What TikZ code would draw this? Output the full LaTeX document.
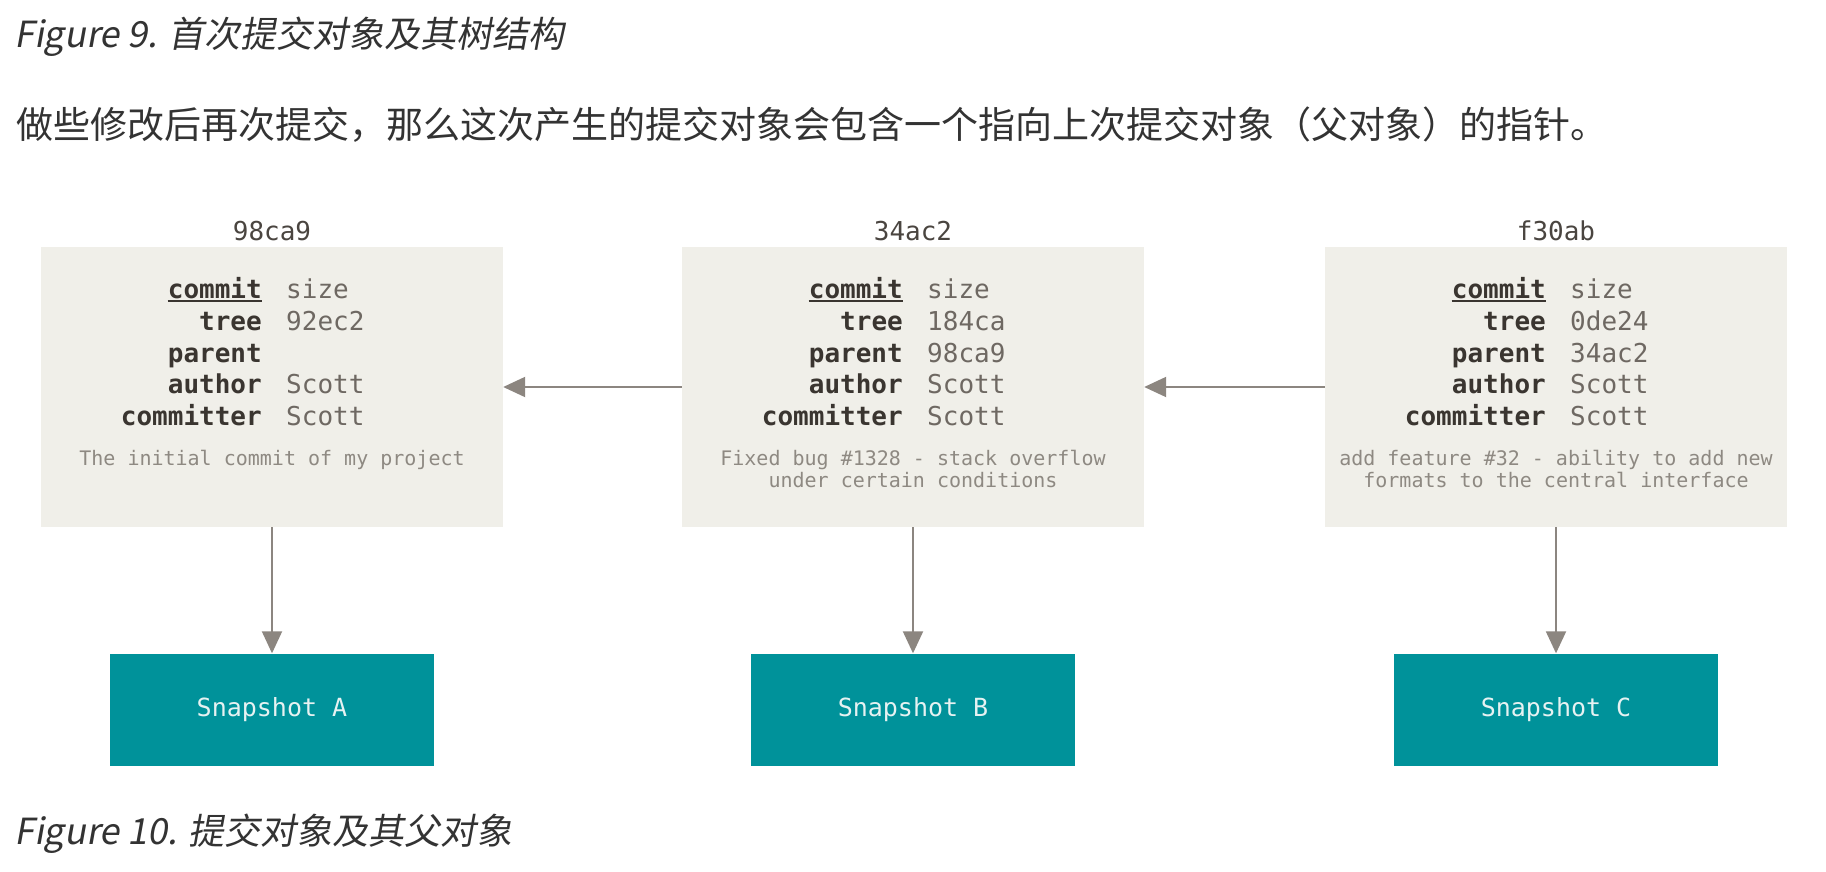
\documentclass[tikz,border=0pt]{standalone}
\usepackage{fontspec}
\usetikzlibrary{arrows.meta}
\setmonofont{DejaVu Sans Mono}
\newfontfamily\cjk{Noto Sans CJK SC}
\newfontfamily\cjkit[FakeSlant=0.18]{Noto Sans CJK SC}
\definecolor{boxfill}{HTML}{F0EFE9}
\definecolor{teal0}{HTML}{00929A}
\definecolor{snaptext}{HTML}{E6F2F2}
\definecolor{keycol}{HTML}{3A3530}
\definecolor{valcol}{HTML}{6E6862}
\definecolor{msgcol}{HTML}{8E8982}
\definecolor{hashcol}{HTML}{4A4540}
\definecolor{arrcol}{HTML}{8C8680}
\definecolor{captcol}{HTML}{333333}
\tikzset{
  box/.style={fill=boxfill, draw=none, minimum width=462pt, minimum height=280pt, inner sep=0pt},
  snap/.style={fill=teal0, draw=none, minimum width=324pt, minimum height=112pt, inner sep=0pt,
    text=snaptext, font=\ttfamily\fontsize{25}{30}\selectfont},
  keytxt/.style={anchor=base east, inner sep=0pt, text=keycol, font=\ttfamily\bfseries\fontsize{26}{31}\selectfont},
  valtxt/.style={anchor=base west, inner sep=0pt, text=valcol, font=\ttfamily\fontsize{26}{31}\selectfont},
  msgtxt/.style={anchor=base, inner sep=0pt, text=msgcol, font=\ttfamily\fontsize{20}{22}\selectfont},
  hashtxt/.style={anchor=base, inner sep=0pt, text=hashcol, font=\ttfamily\fontsize{26}{31}\selectfont},
  arr/.style={draw=arrcol, line width=2pt, -{Triangle[length=22pt,width=20pt]}},
  capt/.style={anchor=base west, inner sep=0pt, text=captcol, font=\cjkit\fontsize{36}{40}\selectfont},
  para/.style={anchor=base west, inner sep=0pt, text=captcol, font=\cjk\fontsize{37}{44}\selectfont},
}
% #1 name, #2 center x, #3 hash, #4 tree, #5 parent, #6 msg1, #7 msg2
\newcommand{\commitbox}[7]{%
  \node[box] (#1) at (#2,387) {};
  \node[hashtxt] (#1h) at (#2,240) {#3};
  \node[keytxt] (#1k1) at (#2-10,298) {commit};
  \node[keytxt] (#1k2) at (#2-10,330) {tree};
  \node[keytxt] (#1k3) at (#2-10,362) {parent};
  \node[keytxt] (#1k4) at (#2-10,393) {author};
  \node[keytxt] (#1k5) at (#2-10,425) {committer};
  \node[valtxt] (#1v1) at (#2+14,298) {size};
  \node[valtxt] (#1v2) at (#2+14,330) {#4};
  \node[valtxt] (#1v3) at (#2+14,362) {#5};
  \node[valtxt] (#1v4) at (#2+14,393) {Scott};
  \node[valtxt] (#1v5) at (#2+14,425) {Scott};
  \draw[keycol, line width=2pt] ([yshift=-3pt]#1k1.base west) -- ([yshift=-3pt]#1k1.base east);
  \node[msgtxt] (#1m1) at (#2,465) {#6};
  \node[msgtxt] (#1m2) at (#2,487) {#7};
}
\begin{document}
\begin{tikzpicture}[x=1pt, y=-1pt]
\useasboundingbox[fill=white] (0,0) rectangle (1826,872);

\node[capt] (cap9) at (14,48) {Figure 9. 首次提交对象及其树结构};
\node[para] (para) at (16,139) {做些修改后再次提交，那么这次产生的提交对象会包含一个指向上次提交对象（父对象）的指针。};

\commitbox{ca}{272}{98ca9}{92ec2}{}{The initial commit of my project}{}
\commitbox{cb}{913}{34ac2}{184ca}{98ca9}{Fixed bug \#1328 - stack overflow}{under certain conditions}
\commitbox{cc}{1556}{f30ab}{0de24}{34ac2}{add feature \#32 - ability to add new}{formats to the central interface}

\node[snap] (sa) at (272,709.5) {Snapshot A};
\node[snap] (sb) at (913,709.5) {Snapshot B};
\node[snap] (sc) at (1556,709.5) {Snapshot C};

\draw[arr] (ca.south) -- (sa.north);
\draw[arr] (cb.south) -- (sb.north);
\draw[arr] (cc.south) -- (sc.north);
\draw[arr] (cb.west) -- (ca.east);
\draw[arr] (cc.west) -- (cb.east);

\node[capt] (cap10) at (14,844) {Figure 10. 提交对象及其父对象};
\end{tikzpicture}
\end{document}
